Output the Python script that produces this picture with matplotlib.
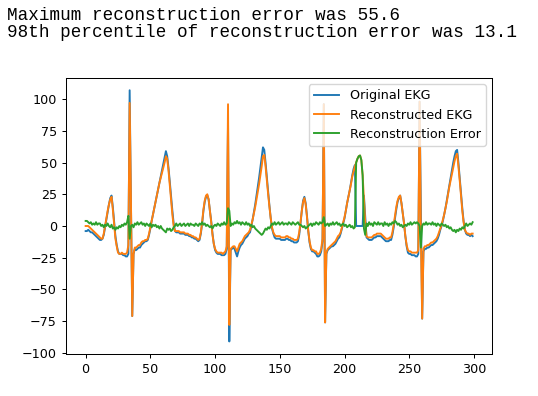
import numpy as np
import matplotlib
matplotlib.use("Agg")
import matplotlib.pyplot as plt

# values, one per sample (0..299)
original_ekg = [
    -4, -4, -3, -4, -5, -5, -6, -7, -8, -9, -10, -11, -11, -10, -7, -1, 5, 11, 17, 22,
    24, 15, 3, -8, -15, -20, -22, -22, -22, -23, -23, -24, -24, -22, 107, 20, -71, -22, -18, -19,
    -18, -17, -17, -15, -14, -13, -12, -12, -11, -7, -2, 4, 9, 14, 19, 24, 29, 34, 39, 44,
    49, 54, 59, 55, 46, 35, 23, 12, 2, -4, -5, -5, -5, -6, -6, -6, -6, -7, -7, -7,
    -8, -8, -9, -9, -10, -10, -11, -12, -11, -6, 2, 12, 19, 23, 24, 21, 12, 4, -6, -14,
    -19, -21, -22, -22, -22, -23, -23, -23, -22, -18, 82, -91, -19, -18, -17, -18, -21, -24, -20, -17,
    -15, -14, -12, -10, -9, -8, -6, -5, 0, 5, 11, 17, 24, 31, 38, 46, 54, 62, 60, 50,
    38, 27, 16, 6, -2, -6, -9, -10, -10, -10, -10, -11, -11, -11, -11, -10, -10, -11, -11, -12,
    -12, -13, -13, -13, -12, -7, 2, 12, 20, 23, 18, 8, -4, -13, -18, -20, -20, -21, -22, -24,
    -24, -23, -20, -12, 96, -76, -22, -19, -18, -17, -16, -16, -15, -14, -12, -10, -9, -6, -2, 2,
    6, 12, 18, 23, 28, 34, 40, 45, 48, 0, 0, 0, 0, 0, 0, 24, 8, -9, -10, -11,
    -11, -11, -10, -9, -9, -8, -8, -8, -8, -9, -10, -11, -12, -12, -12, -11, -11, -7, -1, 6,
    13, 19, 22, 24, 18, 10, 2, -8, -16, -21, -22, -22, -23, -23, -23, -24, -24, -22, 98, 10,
    -73, -20, -18, -18, -17, -17, -16, -15, -15, -14, -13, -12, -10, -7, -3, 0, 4, 9, 14, 20,
    26, 32, 38, 44, 50, 55, 59, 60, 50, 38, 26, 14, 4, -3, -6, -7, -7, -8, -7, -8,
]

reconstructed_ekg = [
    0, 0, 0, -1, -2, -3, -4, -5, -6, -7, -8, -9, -10, -10, -6, 0, 6, 12, 17, 21,
    23, 13, 1, -10, -16, -21, -22, -22, -21, -22, -22, -22, -21, -15, 97, 20, -71, -22, -17, -17,
    -16, -15, -15, -13, -12, -12, -11, -11, -10, -6, -1, 4, 9, 14, 19, 24, 29, 34, 38, 42,
    46, 50, 55, 53, 44, 32, 20, 9, 0, -4, -4, -4, -4, -5, -5, -5, -5, -6, -6, -6,
    -7, -7, -8, -8, -9, -9, -10, -11, -10, -5, 3, 13, 20, 24, 25, 21, 12, 3, -7, -14,
    -18, -20, -21, -21, -21, -21, -22, -21, -20, -16, 96, -78, -18, -17, -16, -16, -18, -20, -17, -14,
    -13, -12, -10, -8, -7, -6, -5, -3, 1, 5, 10, 15, 21, 27, 33, 40, 47, 55, 56, 47,
    36, 25, 15, 6, -1, -5, -7, -8, -8, -8, -8, -9, -9, -9, -9, -8, -8, -9, -9, -10,
    -10, -11, -11, -11, -10, -5, 3, 12, 19, 22, 17, 7, -4, -12, -17, -19, -19, -20, -20, -22,
    -22, -21, -18, -10, 96, -76, -21, -18, -17, -16, -15, -14, -13, -12, -10, -8, -7, -5, -1, 3,
    7, 12, 18, 23, 28, 33, 39, 43, 47, 50, 53, 55, 55.6, 52, 40, 22, 3, -8, -9, -9,
    -9, -9, -8, -7, -7, -6, -6, -6, -6, -7, -8, -9, -10, -10, -10, -9, -9, -5, 1, 8,
    15, 20, 23, 24, 18, 10, 2, -8, -15, -19, -20, -20, -21, -21, -21, -21, -21, -19, 98, -7,
    -73, -18, -16, -16, -15, -15, -14, -13, -13, -12, -11, -10, -8, -5, -2, 1, 5, 9, 14, 19,
    25, 31, 36, 41, 46, 51, 55, 57, 47, 36, 24, 12, 3, -3, -5, -6, -6, -7, -6, -6,
]

reconstruction_error = [
    4, 4, 3, 2, 3, 1, 2, 1, 3, 1, 2, 2, 0, 1, -1, 1, 0, 2, 0, -1,
    1, -2, -1, -3, -1, -2, 0, -1, 1, 0, 2, 1, 3, 8, -10, 0, 1, -1, 2, 1,
    3, 1, 2, 3, 1, 2, 0, 2, 1, 0, 2, -1, 1, 0, 1, -1, 0, -2, 0, -2,
    -3, -4, -5, -2, -3, -2, -4, -3, -1, 0, 2, 0, 1, 2, 0, 1, 2, 0, 1, 2,
    0, 2, 1, 1, 0, 2, 1, 0, 2, 1, 3, 1, 2, 0, 1, 0, -1, 0, -2, 0,
    1, 0, 2, 1, 0, 2, 1, 3, 1, 2, 14, 12, 0, 2, 1, 3, 2, 4, 2, 3,
    1, 3, 2, 1, 3, 1, 2, 0, 1, -1, 0, -2, -3, -4, -5, -6, -7, -6, -4, -2,
    -3, -1, -2, 0, 2, 1, 3, 1, 2, 3, 1, 2, 3, 1, 2, 2, 1, 3, 2, 1,
    3, 2, 1, 2, 3, 1, 1, 0, -1, 0, -2, -1, 0, 1, 2, 0, 2, 1, 3, 2,
    1, 3, 2, 3, 7, 0, 1, 2, 0, 2, 1, 3, 1, 2, 3, 1, 2, 0, 1, 2,
    0, 1, -1, 0, 1, -1, 0, -2, -1, 50, 53, 55, 55.6, 52, 40, -2, -7, 2, 0, 3,
    1, 2, 0, 3, 2, 1, 3, 1, 2, 2, 0, 3, 1, 2, 0, 2, 1, 3, 2, 4,
    3, 1, 2, 0, 1, -1, 0, 1, 0, 2, 1, 3, 1, 2, 3, 2, 3, 2, 0, -17,
    0, 2, 1, 3, 1, 2, 2, 1, 3, 1, 2, 0, 2, 1, 0, 2, 1, 0, 1, -1,
    0, -2, -1, -3, -4, -3, -5, -3, -4, -2, -3, -1, -2, 0, 2, 0, 1, 2, 1, 3,
]

max_error = 55.6
pct98_error = 13.1

S = 0.916  # screenshot scale vs. a 72 dpi notebook figure


def main():
    plt.rcParams["font.size"] = 10 * S
    plt.rcParams["axes.linewidth"] = 0.8 * S
    plt.rcParams["xtick.major.width"] = 0.8 * S
    plt.rcParams["ytick.major.width"] = 0.8 * S
    plt.rcParams["xtick.major.size"] = 3.5 * S
    plt.rcParams["ytick.major.size"] = 3.5 * S

    fig = plt.figure(figsize=(5.38, 3.96), dpi=100)
    fig.text(0.013, 1 - 20 / 396, "Maximum reconstruction error was %.1f" % max_error,
             family="Liberation Mono", fontsize=12.7, va="baseline")
    fig.text(0.013, 1 - 37 / 396, "98th percentile of reconstruction error was %.1f" % pct98_error,
             family="Liberation Mono", fontsize=12.7, va="baseline")

    ax = fig.add_axes([66.3 / 538, 1 - 354 / 396, (492 - 66.3) / 538, (354 - 77.7) / 396])
    x = np.arange(len(original_ekg))
    ax.plot(x, original_ekg, lw=1.5 * S, label="Original EKG")
    ax.plot(x, reconstructed_ekg, lw=1.5 * S, label="Reconstructed EKG")
    ax.plot(x, reconstruction_error, lw=1.5 * S, label="Reconstruction Error")
    ax.set_yticks([-100, -75, -50, -25, 0, 25, 50, 75, 100])
    ax.set_xticks([0, 50, 100, 150, 200, 250, 300])
    ax.legend(loc="upper right")

    fig.savefig("out.png", dpi=100)


if __name__ == "__main__":
    main()
